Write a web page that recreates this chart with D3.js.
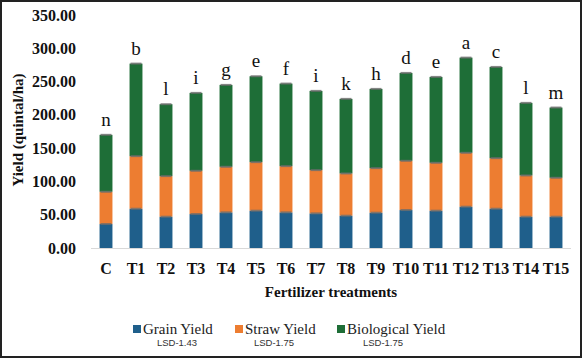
<!DOCTYPE html>
<html><head><meta charset="utf-8">
<script src="https://cdn.jsdelivr.net/npm/d3@7/dist/d3.min.js"></script>
<style>body{margin:0;background:#fff}svg{display:block}</style>
</head><body>
<svg id="c" width="582" height="358"></svg>
<script>
const categories = ["C","T1","T2","T3","T4","T5","T6","T7","T8","T9","T10","T11","T12","T13","T14","T15"];
const grainYield = [36,59,47,51,53.5,56,53.5,52,48.5,53,57,56,62,59,47,47];
const strawYield = [48.5,79,61,65,68.5,73,69.5,65,63.5,67,74,72,81,76,62,58.5];
const biologicalYield = [85.5,139,108,117,123,129,124,119,112,119,132,129,143,137,109,105.5];
const letters = ["n","b","l","i","g","e","f","i","k","h","d","e","a","c","l","m"];
const seriesNames = ["Grain Yield","Straw Yield","Biological Yield"];
const lsdLabels = ["LSD-1.43","LSD-1.75","LSD-1.75"];
const colors = ["#1f5f8b","#ed7d31","#1e6e37"];
const yTicks = [0,50,100,150,200,250,300,350];

const svg = d3.select("#c");
const W = 582, H = 358;
svg.append("rect").attr("x",1).attr("y",1).attr("width",W-2).attr("height",H-2)
  .attr("fill","#fff").attr("stroke","#222").attr("stroke-width",2);

const x = d3.scaleBand().domain(categories).range([91,571]).paddingInner(0.57).paddingOuter(0.285);
const y = d3.scaleLinear().domain([0,350]).range([248,15]);

svg.append("line").attr("x1",91).attr("x2",571).attr("y1",y(0)+0.5).attr("y2",y(0)+0.5)
  .attr("stroke","#d9d9d9").attr("stroke-width",1.2);

const data = categories.map((c,i)=>({cat:c, g:grainYield[i], s:strawYield[i], b:biologicalYield[i]}));
const stack = d3.stack().keys(["g","s","b"])(data);

const g = svg.append("g");
stack.forEach((layer,li)=>{
  g.selectAll(null).data(layer).enter().append("rect")
    .attr("x",d=>x(d.data.cat)).attr("width",x.bandwidth())
    .attr("y",d=>y(d[1])).attr("height",d=>y(d[0])-y(d[1]))
    .attr("fill",colors[li]);
});
stack.forEach((layer,li)=>{
  g.selectAll(null).data(layer).enter().append("rect")
    .attr("x",d=>x(d.data.cat)+1).attr("width",x.bandwidth()-2)
    .attr("y",d=>y(d[1])-1).attr("height",2)
    .attr("fill","#6b6b6b").attr("opacity",0.8);
});

svg.selectAll(null).data(data).enter().append("text")
  .attr("x",d=>x(d.cat)+x.bandwidth()/2).attr("y",d=>y(d.g+d.s+d.b)-9)
  .attr("text-anchor","middle").attr("font-family","Liberation Serif").attr("font-size",19)
  .attr("fill","#111").text((d,i)=>letters[i]);

svg.selectAll(null).data(yTicks).enter().append("text")
  .attr("x",76).attr("y",d=>y(d)).attr("dy","0.35em").attr("text-anchor","end")
  .attr("font-family","Liberation Serif").attr("font-weight","bold").attr("font-size",16)
  .attr("fill","#111").text(d=>d.toFixed(2));

svg.selectAll(null).data(categories).enter().append("text")
  .attr("x",d=>x(d)+x.bandwidth()/2).attr("y",268).attr("dy","0.35em").attr("text-anchor","middle")
  .attr("font-family","Liberation Serif").attr("font-weight","bold").attr("font-size",16)
  .attr("fill","#111").text(d=>d);

svg.append("text").attr("x",331).attr("y",292).attr("dy","0.35em").attr("text-anchor","middle")
  .attr("font-family","Liberation Serif").attr("font-weight","bold").attr("font-size",15)
  .attr("fill","#111").text("Fertilizer treatments");
svg.append("text").attr("transform","translate(18,130) rotate(-90)").attr("dy","0.35em")
  .attr("text-anchor","middle").attr("font-family","Liberation Serif").attr("font-weight","bold")
  .attr("font-size",15).attr("fill","#111").text("Yield (quintal/ha)");

const legX = [133,235,337], lsdX = [177,274,383];
seriesNames.forEach((n,i)=>{
  svg.append("rect").attr("x",legX[i]).attr("y",325).attr("width",8).attr("height",8).attr("fill",colors[i]);
  svg.append("text").attr("x",legX[i]+10).attr("y",329).attr("dy","0.35em")
    .attr("font-family","Liberation Serif").attr("font-size",15).attr("fill","#222").text(n);
  svg.append("text").attr("x",lsdX[i]).attr("y",343).attr("dy","0.35em").attr("text-anchor","middle")
    .attr("font-family","Liberation Sans").attr("font-size",9.5).attr("fill","#333").text(lsdLabels[i]);
});
</script>
</body></html>
